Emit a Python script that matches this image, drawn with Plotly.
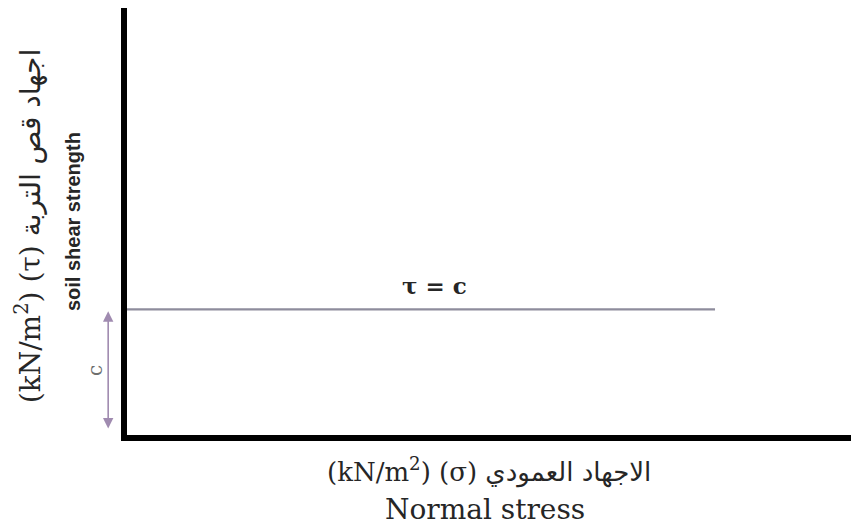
import plotly.graph_objects as go

# Mohr-Coulomb envelope for a purely cohesive soil: tau = c
cohesion = 3.0
sigma = [0.0, 8.0]
tau = [cohesion, cohesion]

x_max = 9.85
y_max = 10.2

y_title_ar = "(kN/m<sup>2</sup>) (τ) اجهاد قص التربة"
y_title_en = "soil shear strength"
x_title_ar = "(kN/m<sup>2</sup>) (σ) الاجهاد العمودي"
x_title_en = "Normal stress"
line_label = "τ = c"
c_label = "c"

serif = "DejaVu Serif, Liberation Serif, DejaVu Sans, serif"
ink = "#262626"

fig = go.Figure()
fig.add_trace(go.Scatter(
    x=sigma, y=tau, mode="lines",
    line=dict(color="#8e8c9c", width=2.2),
    hoverinfo="skip", showlegend=False,
))


def label(x, y, text, size, xref="paper", yref="paper", angle=0, yshift=0, **font_kw):
    return dict(x=x, y=y, xref=xref, yref=yref, text=text, showarrow=False,
                xanchor="center", yanchor="middle", textangle=angle, yshift=yshift,
                font=dict(size=size, **font_kw))


annotations = [
    # envelope label, sitting just above the line
    label(4.19, cohesion, line_label, 23, xref="x", yref="y", yshift=24,
          family=serif, color=ink, weight="bold"),
    # double-headed arrow marking the cohesion intercept
    dict(x=-0.026, y=cohesion * 0.985, xref="paper", yref="y",
         ax=0, ay=0.12, axref="pixel", ayref="y",
         text="", showarrow=True, arrowhead=2, startarrowhead=2,
         arrowside="end+start", arrowsize=1.3, arrowwidth=1.6,
         arrowcolor="#a08bb0"),
    label(-0.0442, 1.55, c_label, 20, yref="y", angle=-90,
          family=serif, color="#6e6e6e"),
    # y-axis titles
    label(-0.1367, 0.489, y_title_ar, 28, angle=-90, family=serif, color=ink),
    label(-0.0746, 0.501, y_title_en, 20, angle=-90,
          family="Liberation Sans, Arial, sans-serif", color=ink, weight="bold"),
    # x-axis titles
    label(0.50, -0.0843, x_title_ar, 26, family=serif, color=ink),
    label(0.4945, -0.1756, x_title_en, 28, family=serif, color=ink),
]

fig.update_layout(
    width=851, height=531,
    margin=dict(l=127, r=0, t=8, b=96),
    paper_bgcolor="white", plot_bgcolor="white",
    annotations=annotations,
    xaxis=dict(range=[0, x_max], showgrid=False, zeroline=False, showticklabels=False,
               ticks="", showline=True, linecolor="black", linewidth=6, fixedrange=True),
    yaxis=dict(range=[0, y_max], showgrid=False, zeroline=False, showticklabels=False,
               ticks="", showline=True, linecolor="black", linewidth=6, fixedrange=True),
)

fig.write_html("out.html")
